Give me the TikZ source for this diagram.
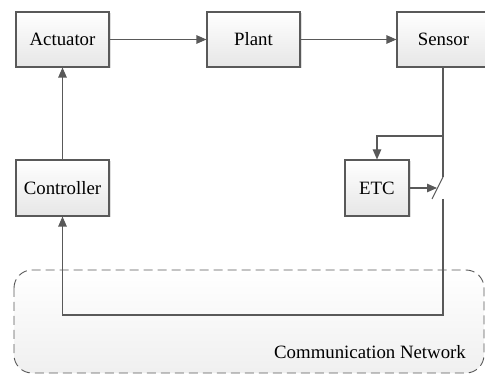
\documentclass[tikz,border=0pt]{standalone}
\usepackage{fontspec}
\setmainfont{Liberation Serif}
\usetikzlibrary{arrows.meta,shadows}
\definecolor{linec}{HTML}{595959}
\definecolor{boxb}{HTML}{E6E6E6}
\begin{document}
\begin{tikzpicture}[x=1pt,y=-1pt,
  blk/.style={draw=linec,line width=1.1pt,minimum height=55pt,inner sep=0pt,
    top color=white,bottom color=boxb,
    drop shadow={shadow xshift=1.5pt,shadow yshift=-1.5pt,opacity=0.25},
    font=\fontsize{18.8}{22}\selectfont},
  wire/.style={draw=linec,line width=1.1pt},
  arr/.style={wire,-{Triangle[length=10pt,width=8.5pt]}},
  lbl/.style={font=\fontsize{18.8}{22}\selectfont}]
\useasboundingbox (0,0) rectangle (485,374);
\clip (0,0) rectangle (485,374);
% network region
\draw[draw=linec,line width=0.9pt,dash pattern=on 9pt off 5pt,rounded corners=18pt,
  top color=white,bottom color=gray!12] (14,270) rectangle (484,373);
\node[lbl,anchor=center] (net) at (370,352) {Communication Network};
% blocks
\node[blk,minimum width=93pt] (act) at (62.5,39.5) {Actuator};
\node[blk,minimum width=93pt] (plant) at (253.5,39.5) {Plant};
\node[blk,minimum width=93pt] (sens) at (443.5,39.5) {Sensor};
\node[blk,minimum width=93pt,minimum height=56pt] (ctrl) at (62.5,188) {Controller};
\node[blk,minimum width=64pt,minimum height=56pt] (etc) at (377,188) {ETC};
% coordinates
\coordinate (sw1) at (443,177);
\coordinate (sw2) at (432,199);
\coordinate (sw3) at (443,199);
\coordinate (br) at (443,136);
\coordinate (bl) at (377,136);
\coordinate (etcin) at (437,188);
\coordinate (bot1) at (443,315);
\coordinate (bot2) at (62.5,315);
% connectors
\draw[arr] (act.east) -- (plant.west);
\draw[arr] (plant.east) -- (sens.west);
\draw[arr] (ctrl.north) -- (act.south);
\draw[wire] (sens.south -| sw1) -- (sw1);
\draw[arr] (br) -- (bl) -- (etc.north);
\draw[wire] (sw1) -- (sw2);
\draw[arr] (etc.east) -- (etcin);
\draw[arr] (sw3) -- (bot1) -- (bot2) -- (ctrl.south);
\end{tikzpicture}
\end{document}
